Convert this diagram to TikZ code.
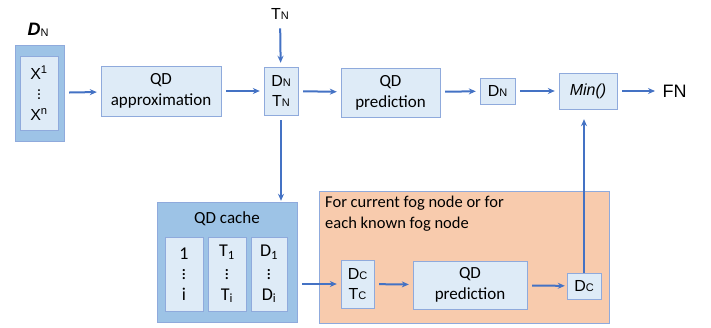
\documentclass[tikz,border=0pt]{standalone}
\usepackage{fontspec}
\setmainfont{Carlito}
\newfontfamily\arialfont{Liberation Sans}
\usepackage{tikz}
\usetikzlibrary{arrows.meta}
\definecolor{qdlight}{HTML}{DEEBF7}
\definecolor{qddark}{HTML}{9DC3E6}
\definecolor{qdline}{HTML}{8FAADC}
\definecolor{qdarrow}{HTML}{4472C4}
\definecolor{fogfill}{HTML}{F8CBAD}
\newcommand{\smallidx}[1]{{\fontsize{11}{11}\selectfont\raisebox{-0.5pt}{#1}}}

\begin{document}
\begin{tikzpicture}[x=1pt,y=-1pt,>={Stealth[length=7pt,width=6pt]},
      qdbox/.style={rectangle,draw=qdline,fill=qdlight,align=center,inner sep=0pt,font=\fontsize{17}{21}\selectfont},
      darkbox/.style={qdbox,fill=qddark},
      arbox/.style={qdbox,font=\arialfont\fontsize{16}{20}\selectfont},
      listbox/.style={qdbox,font=\fontsize{18}{15}\selectfont},
      flow/.style={line width=2pt,draw=qdarrow,every edge/.style={draw=qdarrow,line width=2pt,->},shorten >=4pt,shorten <=5pt}]
      \useasboundingbox (0,0) rectangle (711,328);
      % input data
      \node[font=\arialfont\fontsize{18}{18}\selectfont]  (dnlbl) at (38,30) {\textbf{\textit{D}}\smallidx{N}};
      \node[darkbox,minimum width=49pt,minimum height=96pt]  (dnout) at (39.5,93) {};
      \node[listbox,font=\arialfont\fontsize{16}{15}\selectfont,minimum width=38pt,minimum height=74pt]  (dnin) at (39,93) {X\textsuperscript{1}\\[3pt]$\vdots$\\[6pt]X\textsuperscript{n}};
      % top row
      \node[qdbox,minimum width=120pt,minimum height=50pt]  (approx) at (161,91) {QD\\approximation};
      \node[arbox,minimum width=34pt,minimum height=48pt]  (dntn) at (281,91) {D\smallidx{N}\\T\smallidx{N}};
      \node[font=\arialfont\fontsize{16}{16}\selectfont]  (tn) at (280,14) {T\smallidx{N}};
      \node[qdbox,minimum width=99pt,minimum height=49pt]  (pred) at (390.5,92.5) {QD\\prediction};
      \node[arbox,minimum width=35pt,minimum height=26pt]  (dn) at (497.5,91) {D\smallidx{N}};
      \node[qdbox,minimum width=58pt,minimum height=36pt,font=\arialfont\itshape\fontsize{16}{16}\selectfont]  (min) at (588,91) {Min()};
      \node[font=\arialfont\fontsize{18}{18}\selectfont,anchor=west]  (fn) at (659,91) {FN};
      % cache
      \node[darkbox,minimum width=140pt,minimum height=120pt]  (cache) at (227,262) {};
      \node[font=\fontsize{17}{17}\selectfont]  (cachelbl) at (227,219) {QD cache};
      \node[listbox,minimum width=38pt,minimum height=74pt]  (cidx) at (184,274) {1\\[3pt]$\vdots$\\[6pt]i};
      \node[listbox,minimum width=38pt,minimum height=74pt]  (ct) at (227,274) {T\textsubscript{1}\\[3pt]$\vdots$\\[6pt]T\textsubscript{i}};
      \node[listbox,minimum width=36pt,minimum height=74pt]  (cd) at (269,274) {D\textsubscript{1}\\[3pt]$\vdots$\\[6pt]D\textsubscript{i}};
      % fog nodes
      \node[rectangle,draw=qdline,fill=fogfill,minimum width=290pt,minimum height=132pt]  (fog) at (464,257) {};
      \node[anchor=north west,align=left,inner sep=0pt,font=\fontsize{16.5}{21}\selectfont]  (foglbl) at (325,196) {For current fog node or for\\each known fog node};
      \node[arbox,minimum width=33pt,minimum height=48pt]  (dctc) at (357.5,284) {D\smallidx{C}\\T\smallidx{C}};
      \node[qdbox,minimum width=114pt,minimum height=48pt]  (pred2) at (470,285) {QD\\prediction};
      \node[arbox,minimum width=34pt,minimum height=26pt]  (dc) at (584,286) {D\smallidx{C}};
      \path[flow]
        (dnout) edge (approx)
        (approx) edge (dntn)
        (tn) edge (dntn)
        (dntn) edge (pred)
        (pred) edge (dn)
        (dn) edge (min)
        (min) edge (fn)
        (dntn.south) edge[shorten >=1pt] (dntn.south |- cache.north)
        (cache.east |- dctc) edge (dctc)
        (dctc) edge (pred2)
        (pred2) edge[shorten >=2pt] (dc)
        (dc.north) edge[shorten <=0pt,shorten >=10pt] (dc.north |- min.south)
        ;
    \end{tikzpicture}
\end{document}
